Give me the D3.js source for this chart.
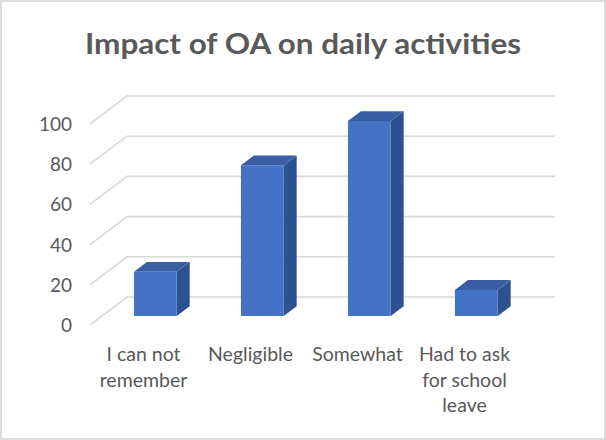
<!DOCTYPE html>
<html><head><meta charset="utf-8">
<script src="https://cdn.jsdelivr.net/npm/d3@7"></script>
<style>html,body{margin:0;padding:0;background:#fff;}</style>
</head><body>
<svg id="chart" width="606" height="440"></svg>
<script>
const title = "Impact of OA on daily activities";
const categories = ["I can not remember", "Negligible", "Somewhat", "Had to ask for school leave"];
const categoryLines = [["I can not", "remember"], ["Negligible"], ["Somewhat"], ["Had to ask", "for school", "leave"]];
const values = [22, 75, 97, 13];
const yTicks = [0, 20, 40, 60, 80, 100];

const W = 606, H = 440;
const svg = d3.select("#chart");
svg.append("rect").attr("x", 1).attr("y", 1).attr("width", W - 2).attr("height", H - 2)
  .attr("fill", "#fff").attr("stroke", "#dedede").attr("stroke-width", 2);

const depthX = 37, depthY = 28;
const proj = (px, py, z) => [px + z * depthX, py - z * depthY];

const x = d3.scaleBand().domain(categories).range([90, 518]).paddingInner(0.6).paddingOuter(0.3);
const y = d3.scaleLinear().domain([0, 100]).range([325, 124]);

// title
svg.append("text").attr("x", 303).attr("y", 54).attr("text-anchor", "middle")
  .attr("font-family", "Lato, 'Open Sans', sans-serif").attr("font-weight", "bold")
  .attr("font-size", 29).attr("fill", "#595959")
  .attr("textLength", 436).attr("lengthAdjust", "spacingAndGlyphs")
  .text(title);

// gridlines (front-side diagonal + back wall)
const grid = svg.append("g");
yTicks.forEach(t => {
  const a = proj(90, y(t), 0), b = proj(90, y(t), 1), c = proj(518, y(t), 1);
  grid.append("path").attr("d", d3.line()([a, b, c]))
    .attr("fill", "none").attr("stroke", "#d9d9d9").attr("stroke-width", 1.6);
});

// y axis labels
const yAxis = d3.axisLeft(y).tickValues(yTicks).tickSize(0).tickPadding(0);
const ga = svg.append("g").attr("transform", "translate(72,0)").call(yAxis);
ga.select(".domain").remove();
ga.selectAll("text").attr("font-family", "Lato, 'Open Sans', sans-serif")
  .attr("font-size", 19).attr("fill", "#595959").attr("dy", "0.34em");

// bars
const z0 = 0.32, z1 = 0.67;
const gb = svg.append("g");
categories.forEach((c, i) => {
  const v = values[i];
  const xl = x(c), xr = x(c) + x.bandwidth();
  const fBL = proj(xl, y(0), z0), fBR = proj(xr, y(0), z0);
  const fTL = proj(xl, y(v), z0), fTR = proj(xr, y(v), z0);
  const bTL = proj(xl, y(v), z1), bTR = proj(xr, y(v), z1), bBR = proj(xr, y(0), z1);
  gb.append("path").attr("d", d3.line()([fBR, fTR, bTR, bBR]) + "Z").attr("fill", "#2E5190");
  gb.append("path").attr("d", d3.line()([fTL, fTR, bTR, bTL]) + "Z").attr("fill", "#3A5EA4");
  gb.append("path").attr("d", d3.line()([fBL, fBR, fTR, fTL]) + "Z").attr("fill", "#4472C4");
});

// category labels
const gc = svg.append("g");
categories.forEach((c, i) => {
  const cx = x(c) + x.bandwidth() / 2;
  const t = gc.append("text").attr("x", cx).attr("y", 361).attr("text-anchor", "middle")
    .attr("font-family", "Lato, 'Open Sans', sans-serif").attr("font-size", 19.5).attr("fill", "#595959");
  categoryLines[i].forEach((ln, j) => {
    t.append("tspan").attr("x", cx).attr("dy", j === 0 ? 0 : 25.5).text(ln);
  });
});
</script>
</body></html>
